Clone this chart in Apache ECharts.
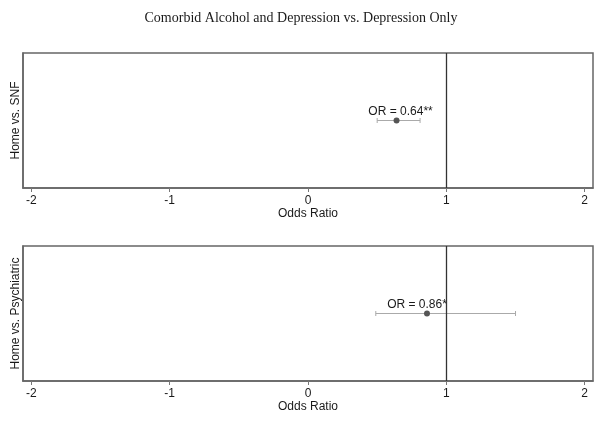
<!DOCTYPE html>
<html>
<head>
<meta charset="utf-8">
<script src="https://cdn.jsdelivr.net/npm/echarts@6/dist/echarts.min.js"></script>
<style>
html,body{margin:0;padding:0;background:#fff;}
#chart{width:602px;height:425px;}
</style>
</head>
<body>
<div id="chart"></div>
<script>
const titleText = 'Comorbid Alcohol and Depression vs. Depression Only';
const panels = ['Home vs. SNF', 'Home vs. Psychiatric'];
const oddsRatios = [0.64, 0.86];
const ciLower = [0.50, 0.49];
const ciUpper = [0.81, 1.50];
const pointLabels = ['OR = 0.64**', 'OR = 0.86*'];
const xTicks = [-2, -1, 0, 1, 2];
const refValue = 1;
const xAxisTitle = 'Odds Ratio';

const sansFont = '"Liberation Sans", Arial, Helvetica, sans-serif';
const labelShift = [4, -10];
const gridTops = [53, 246];

const chart = echarts.init(document.getElementById('chart'), null, {renderer: 'canvas'});

const grids = panels.map((p, i) => ({
  left: 23, width: 570, top: gridTops[i], height: 135,
  show: true, borderColor: '#666', borderWidth: 1.5, backgroundColor: '#fff'
}));

const xAxes = panels.map((p, i) => ({
  type: 'value', gridIndex: i, min: -2.06, max: 2.06,
  name: xAxisTitle, nameLocation: 'middle', nameGap: 19,
  nameTextStyle: {fontFamily: sansFont, fontSize: 12, color: '#1a1a1a'},
  axisLine: {show: true, onZero: false, lineStyle: {color: '#666', width: 1.5}},
  axisTick: {show: true, customValues: xTicks, length: 4, lineStyle: {color: '#777', width: 1}},
  axisLabel: {show: true, customValues: xTicks, margin: 7, fontFamily: sansFont, fontSize: 12, color: '#1a1a1a',
    formatter: v => String(v)},
  splitLine: {show: false}
}));

const yAxes = panels.map((p, i) => ({
  type: 'value', gridIndex: i, min: 0, max: 1,
  name: p, nameLocation: 'middle', nameGap: 1,
  nameTextStyle: {fontFamily: sansFont, fontSize: 12, color: '#1a1a1a'},
  axisLine: {show: true, onZero: false, lineStyle: {color: '#666', width: 1.5}},
  axisTick: {show: false}, axisLabel: {show: false}, splitLine: {show: false}
}));

const series = panels.map((p, i) => ({
  type: 'custom', xAxisIndex: i, yAxisIndex: i, silent: true,
  data: [[oddsRatios[i], ciLower[i], ciUpper[i], 0.5]],
  renderItem: function (params, api) {
    const pt = api.coord([api.value(0), api.value(3)]);
    const lo = api.coord([api.value(1), api.value(3)]);
    const hi = api.coord([api.value(2), api.value(3)]);
    const barStyle = {stroke: '#aaa', lineWidth: 1};
    return {
      type: 'group',
      children: [
        {type: 'line', shape: {x1: lo[0], y1: lo[1], x2: hi[0], y2: hi[1]}, style: barStyle},
        {type: 'line', shape: {x1: lo[0], y1: lo[1] - 2.5, x2: lo[0], y2: lo[1] + 2.5}, style: barStyle},
        {type: 'line', shape: {x1: hi[0], y1: hi[1] - 2.5, x2: hi[0], y2: hi[1] + 2.5}, style: barStyle},
        {type: 'circle', shape: {cx: pt[0], cy: pt[1], r: 3}, style: {fill: '#555'}},
        {type: 'text', style: {
          text: pointLabels[i], x: pt[0] + labelShift[i], y: pt[1] - 9,
          align: 'center', verticalAlign: 'middle', textAlign: 'center', textVerticalAlign: 'middle',
          fontFamily: sansFont, fontSize: 12, fill: '#1a1a1a'
        }}
      ]
    };
  },
  markLine: {
    silent: true, symbol: 'none', label: {show: false},
    lineStyle: {color: '#333', width: 1.3, type: 'solid'},
    data: [{xAxis: refValue}]
  }
}));

chart.setOption({
  animation: false,
  backgroundColor: '#fff',
  title: {
    text: titleText, left: 'center', top: 6,
    textStyle: {fontFamily: '"Liberation Serif", "Times New Roman", serif', fontSize: 14, fontWeight: 'normal', color: '#1a1a1a'}
  },
  grid: grids,
  xAxis: xAxes,
  yAxis: yAxes,
  series: series
});
</script>
</body>
</html>
